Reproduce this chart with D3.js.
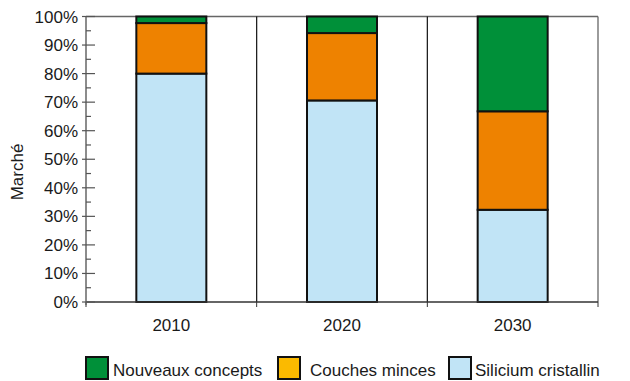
<!DOCTYPE html>
<html><head><meta charset="utf-8">
<script src="https://cdn.jsdelivr.net/npm/d3@7"></script>
<style>body{margin:0;background:#fff}svg{display:block;font-family:"Liberation Sans",Arial,sans-serif}</style>
</head><body><svg id="c" width="630" height="381"></svg>
<script>
const categories = ["2010", "2020", "2030"];
const silicium = [80, 70.6, 32.3];
const couches = [17.7, 23.6, 34.5];
const nouveaux = [2.3, 5.8, 33.2];
const seriesNames = ["Silicium cristallin", "Couches minces", "Nouveaux concepts"];
const yTicks = [0,10,20,30,40,50,60,70,80,90,100];
const legendOrder = ["Nouveaux concepts", "Couches minces", "Silicium cristallin"];

const barColor = {"Silicium cristallin":"#c1e4f6","Couches minces":"#ee8200","Nouveaux concepts":"#009039"};
const legendColor = {"Silicium cristallin":"#c1e4f6","Couches minces":"#fbba00","Nouveaux concepts":"#009039"};

const svg = d3.select("#c");
const L = 86, R = 598, T = 16.5, B = 302;
const FS = 17;
const x = d3.scaleBand().domain(categories).range([L, R]).paddingInner(0).paddingOuter(0);
const y = d3.scaleLinear().domain([0, 100]).range([B, T]);

// frame
svg.append("line").attr("x1",L).attr("x2",R).attr("y1",T).attr("y2",T).attr("stroke","#666").attr("stroke-width",1.3);
svg.append("line").attr("x1",R).attr("x2",R).attr("y1",T).attr("y2",B).attr("stroke","#666").attr("stroke-width",1.3);
// dividers
categories.slice(1).forEach(c => {
  svg.append("line").attr("x1",x(c)).attr("x2",x(c)).attr("y1",T).attr("y2",B).attr("stroke","#111").attr("stroke-width",1.2);
});

// stacked
const rows = categories.map((c,i)=>({cat:c,"Silicium cristallin":silicium[i],"Couches minces":couches[i],"Nouveaux concepts":nouveaux[i]}));
const stack = d3.stack().keys(seriesNames)(rows);
const bw = 70;
stack.forEach(s => {
  svg.append("g").selectAll("rect").data(s).join("rect")
    .attr("x", d => x(d.data.cat) + x.bandwidth()/2 - bw/2)
    .attr("width", bw)
    .attr("y", d => y(d[1]))
    .attr("height", d => y(d[0]) - y(d[1]))
    .attr("fill", barColor[s.key])
    .attr("stroke", "#111").attr("stroke-width", 2);
});

// x axis
svg.append("line").attr("x1",L).attr("x2",R).attr("y1",B).attr("y2",B).attr("stroke","#333").attr("stroke-width",1.3);
[L, ...categories.slice(1).map(c=>x(c)), R].forEach(px => {
  svg.append("line").attr("x1",px).attr("x2",px).attr("y1",B).attr("y2",B+5).attr("stroke","#333").attr("stroke-width",1);
});
svg.append("g").selectAll("text").data(categories).join("text")
  .attr("x", d => x(d) + x.bandwidth()/2).attr("y", 331)
  .attr("text-anchor","middle").attr("font-size",FS).attr("fill","#1a1a1a").text(d=>d);

// y axis
svg.append("line").attr("x1",L).attr("x2",L).attr("y1",T-0.5).attr("y2",B+3).attr("stroke","#666").attr("stroke-width",1.5);
yTicks.forEach(v => {
  svg.append("line").attr("x1",L-4).attr("x2",L+9).attr("y1",y(v)).attr("y2",y(v)).attr("stroke","#555").attr("stroke-width",1.2);
  if (v < 100) svg.append("line").attr("x1",L).attr("x2",L+5).attr("y1",y(v+5)).attr("y2",y(v+5)).attr("stroke","#555").attr("stroke-width",1.2);
});
svg.append("g").selectAll("text").data(yTicks).join("text")
  .attr("x", 78).attr("y", d => y(d)+6).attr("text-anchor","end")
  .attr("font-size",FS).attr("fill","#1a1a1a").text(d=>d+"%");

svg.append("text").attr("transform","translate(23,172) rotate(-90)")
  .attr("text-anchor","middle").attr("font-size",FS).attr("fill","#1a1a1a").text("Marché");

// legend
const legX = [86, 278, 449];
const legT = [113, 310, 475];
legendOrder.forEach((n,i) => {
  svg.append("rect").attr("x",legX[i]).attr("y",357).attr("width",22).attr("height",22)
    .attr("fill",legendColor[n]).attr("stroke","#111").attr("stroke-width",2);
  svg.append("text").attr("x",legT[i]).attr("y",376).attr("font-size",FS).attr("fill","#1a1a1a").text(n);
});
</script></body></html>
